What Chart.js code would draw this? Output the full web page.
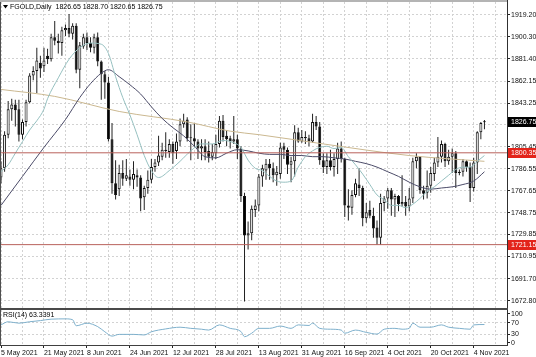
<!DOCTYPE html>
<html><head><meta charset="utf-8">
<script src="https://cdn.jsdelivr.net/npm/chart.js@4.4.1/dist/chart.umd.min.js"></script>
<style>
html,body{margin:0;padding:0;background:#fff;}
#wrap{position:relative;width:536px;height:357px;overflow:hidden;background:#fff;}
canvas{position:absolute;left:0;}
#cA{top:0;width:536px;height:310px;}
#cB{top:310px;width:536px;height:47px;}
</style></head><body>
<div id="wrap"><canvas id="cA" width="536" height="310"></canvas><canvas id="cB" width="536" height="47"></canvas></div>
<script>
// ---------- data ----------
const symbolTitle = 'FGOLD,Daily';
const lastOHLC = ['1826.65', '1828.70', '1820.65', '1826.75'];
const dateLabels = ['5 May 2021','21 May 2021','8 Jun 2021','24 Jun 2021','12 Jul 2021','28 Jul 2021','13 Aug 2021','31 Aug 2021','16 Sep 2021','4 Oct 2021','20 Oct 2021','4 Nov 2021'];

const opens = [1779,1787,1816,1838,1842,1838,1816,1827,1844,1867,1871,1878,1875,1884,1881,1900,1897,1895,1906,1908,
1903,1910,1872,1892,1900,1895,1891,1900,1879,1868,1861,1812,1774,1769,1783,1778,1780,1777,1781,1779,
1762,1770,1777,1788,1792,1797,1803,1801,1808,1802,1810,1825,1829,1813,1813,1810,1804,1806,1802,1797,
1800,1808,1828,1815,1813,1810,1812,1804,1763,1729,1731,1751,1755,1780,1785,1791,1787,1781,1782,1806,
1803,1790,1793,1818,1810,1814,1813,1810,1827,1823,1794,1788,1794,1788,1795,1804,1795,1755,1753,1764,
1773,1770,1744,1751,1746,1736,1727,1757,1761,1768,1760,1763,1756,1758,1754,1761,1793,1797,1768,1766,
1772,1782,1792,1797,1808,1793,1797,1800,1783,1784,1793,1788,1770,1792,1818,1826.65];
const highs = [1793,1819,1845,1847,1846,1846,1829,1846,1869,1875,1891,1884,1891,1890,1903,1914,1903,1909,1911,1920,
1912,1912,1896,1903,1904,1900,1903,1904,1880,1871,1866,1826,1794,1790,1794,1795,1786,1793,1786,1781,
1772,1785,1795,1795,1815,1809,1818,1812,1810,1817,1830,1834,1831,1825,1826,1812,1812,1812,1810,1808,
1816,1832,1833,1820,1815,1832,1816,1806,1766,1741,1755,1760,1782,1790,1795,1795,1792,1789,1809,1809,
1805,1797,1824,1822,1820,1819,1816,1834,1832,1827,1800,1800,1803,1800,1809,1810,1796,1769,1768,1778,
1787,1772,1757,1759,1753,1742,1765,1763,1770,1770,1765,1764,1781,1763,1770,1796,1800,1797.5,1772,1785,
1788,1796,1814,1811,1809,1803,1804,1802,1786,1795,1794,1792,1796,1819,1827,1828.70];
const lows = [1774,1784,1813,1828,1823,1810,1812,1823,1843,1863,1852,1865,1870,1877,1879,1893,1886,1884,1901,1900,
1898,1869,1856,1890,1889,1887,1886,1875,1846,1847,1810,1765,1760,1763,1772,1776,1772,1769,1771,1750,
1751,1765,1774,1784,1789,1794,1796,1796,1791,1795,1806,1822,1810,1794,1806,1795,1794,1794,1792,1794,
1795,1805,1810,1806,1804,1808,1795,1758,1672,1717,1725,1745,1750,1771,1777,1777,1775,1772,1778,1795,
1782,1775,1780,1809,1809,1808,1806,1809,1820,1790,1783,1782,1785,1780,1782,1792,1745,1742,1747,1762,
1763,1737,1740,1744,1727,1721,1721,1750,1752,1746,1745,1750,1754,1746,1750,1757,1787,1765,1760,1761,
1766,1776,1788,1792,1788,1790,1783,1770,1781,1780,1784,1758,1767,1782,1812,1820.65];
const closes = [1787,1816,1838,1842,1837,1816,1827,1844,1867,1871,1880,1873,1880,1881,1900,1897,1895,1906,1908,1903,
1910,1872,1893,1900,1895,1891,1900,1879,1868,1861,1812,1774,1764,1783,1778,1781,1777,1782,1779,1761,
1770,1777,1788,1792,1798,1803,1802,1808,1800,1810,1825,1828,1813,1813,1810,1804,1806,1801,1797,1801,
1808,1828,1814,1812,1810,1812,1804,1763,1729,1731,1752,1755,1780,1787,1791,1787,1781,1784,1805,1803,
1790,1793,1818,1810,1814,1813,1810,1827,1823,1794,1788,1794,1788,1795,1804,1795,1755,1753,1764,1774,
1770,1744,1749,1746,1735,1727,1757,1761,1768,1760,1763,1756,1758,1754,1761,1793,1797,1768,1765,1772,
1783,1792,1797,1808,1793,1797,1800,1783,1784,1793,1788,1770,1792,1818,1826,1826.75];

// moving averages (bar index -> price)
const tealBars   = [0,2,4,6,8,10,12,13,16,19,22,25,28,30,32,34,36,38,40,42,44,47,50,53,56,59,62,65,67,69,71,73,75,77,79,81,83,85,87,89,91,93,95,97,99,101,103,105,107,109,111,113,115,117,119,121,123,125,127,129,131,133,135];
const tealValues = [1784,1790,1800,1810,1820,1828,1838,1847,1865,1881,1891,1895,1894,1886,1866,1848,1833,1816,1798,1785,1779,1785,1793,1802,1808,1808,1811,1809,1805,1794,1787,1785,1780,1776,1775,1776,1788,1797,1802,1805,1806,1804,1805,1797,1790,1782,1773,1764,1760,1755,1755,1753,1756,1761,1767,1771,1776,1781,1786,1788,1788,1793,1798];
const navyBars   = [0,6,12,18,22,25,28,30,33,36,39,42,45,48,51,54,57,60,63,66,69,72,75,78,81,84,87,90,93,96,99,102,105,108,111,114,117,120,123,126,129,132,135];
const navyValues = [1755,1780,1805,1829,1848,1860,1869,1872,1866,1859,1851,1840,1830,1822,1815,1806,1797,1796,1800,1803,1802,1800,1799,1799,1798,1798,1797,1797,1796,1795,1793,1791,1788,1784,1780,1775,1771,1769,1770,1771,1773,1776,1784];
const tanBars    = [0,15,33,52,64,72,90,114,135];
const tanValues  = [1855,1849,1836,1827,1819,1816,1808,1798,1793];

const priceTicks = [1919.20,1900.30,1881.40,1862.15,1843.25,1824.35,1805.45,1786.55,1767.65,1748.75,1729.85,1710.95,1691.70,1672.80];
const levelValues = [1800.35, 1721.15];
const lastPrice = 1826.75;

const rsiBars   = [0,2,5,8,11,14,18,20,21,24,27,29,31,33,37,40,42,46,50,53,56,58,61,64,67,68,70,72,75,78,81,83,86,87,89,92,95,96,99,102,105,107,110,112,114,115,117,120,123,125,128,131,132,135];
const rsiValues = [62,73,68,73,77,82,83,80,59,68,56,38,23,29,29,27,38,48,54,50,47,44,62,50,39,21,33,50,50,58,50,62,60,68,50,47,44,33,44,36,30,47,50,47,50,68,54,54,62,54,50,47,62,63.34];
const rsiTicks = [0,30,70,100];
const rsiTitle = 'RSI(14) 63.3391';

// ---------- layout constants ----------
const X_MIN = -0.28, X_MAX = 141.3;
const Y_MIN = 1666.5, Y_MAX = 1930.4;
const R_MIN = -8, R_MAX = 113.9;
const FONT = "'Liberation Sans', Arial, sans-serif";
const gridBars = [];
for (let v = 0; v <= X_MAX; v += 6) gridBars.push(v);
const GRID = '#d2d2d2';

const pts = (bx, vy) => bx.map((b, k) => ({x: b, y: vy[k]}));
const idx = opens.map((_, i) => i);

function fixY(width) {
  return s => { s.width = width; s.paddingTop = 0; s.paddingBottom = 0; s.paddingLeft = 0; s.paddingRight = 0; };
}
function fixX(height) {
  return s => { s.height = height; s.paddingLeft = 0; s.paddingRight = 0; s.paddingTop = 0; s.paddingBottom = 0; };
}

// ---------- main chart ----------
const decorA = {
  id: 'decorA',
  afterDraw(chart) {
    const {ctx, scales: {y}} = chart;
    ctx.save();
    ctx.fillStyle = '#b4b4b4'; ctx.fillRect(0, 0, 507, 2);
    ctx.fillStyle = '#505050'; ctx.fillRect(0, 2, 1, 306);
    ctx.fillStyle = '#303030'; ctx.fillRect(507, 0, 1, 310);
    ctx.fillStyle = '#4a4a4a'; ctx.fillRect(0, 308, 508, 2);
    ctx.font = '7px ' + FONT;
    ctx.textBaseline = 'middle';
    ctx.textAlign = 'left';
    const boxes = [[lastPrice, '#000000'], [levelValues[0], '#e3241b'], [levelValues[1], '#e3241b']];
    boxes.forEach(([v, col]) => {
      const py = Math.round(y.getPixelForValue(v));
      ctx.fillStyle = col; ctx.fillRect(508, py - 5, 28, 10);
      ctx.fillStyle = '#ffffff'; ctx.fillText(v.toFixed(2), 511, py + 0.5);
    });
    ctx.fillStyle = '#000';
    ctx.beginPath(); ctx.moveTo(3, 5); ctx.lineTo(8, 5); ctx.lineTo(5.5, 8.5); ctx.closePath(); ctx.fill();
    ctx.fillText(symbolTitle + '  ' + lastOHLC.join(' '), 10, 7.5);
    ctx.restore();
  }
};

new Chart(document.getElementById('cA'), {
  type: 'line',
  data: {
    datasets: [
      {type: 'line', data: [{x: X_MIN, y: levelValues[0]}, {x: X_MAX, y: levelValues[0]}], borderColor: '#b9625c', borderWidth: 1, pointRadius: 0, order: 0},
      {type: 'line', data: [{x: X_MIN, y: levelValues[1]}, {x: X_MAX, y: levelValues[1]}], borderColor: '#b9625c', borderWidth: 1, pointRadius: 0, order: 0},
      {type: 'line', data: pts(tealBars, tealValues), borderColor: '#96c0c0', borderWidth: 1, pointRadius: 0, cubicInterpolationMode: 'monotone', order: 1},
      {type: 'line', data: pts(navyBars, navyValues), borderColor: '#4b4b68', borderWidth: 1, pointRadius: 0, cubicInterpolationMode: 'monotone', order: 1},
      {type: 'line', data: pts(tanBars, tanValues), borderColor: '#cbb890', borderWidth: 1, pointRadius: 0, cubicInterpolationMode: 'monotone', order: 1},
      {type: 'bar', data: idx.map(i => ({x: i, y: [opens[i], closes[i]]})), grouped: false, barThickness: 3, inflateAmount: 0,
        backgroundColor: c => (c.dataIndex !== undefined && closes[c.dataIndex] >= opens[c.dataIndex]) ? '#ffffff' : '#000000',
        borderColor: '#111', borderWidth: 1, borderSkipped: false, minBarLength: 1, order: 2},
      {type: 'bar', data: idx.map(i => ({x: i, y: [lows[i], highs[i]]})), grouped: false, barThickness: 1, inflateAmount: 0,
        backgroundColor: '#222', borderWidth: 0, order: 3}
    ]
  },
  options: {
    responsive: false, animation: false, events: [],
    layout: {padding: {top: 2, bottom: 2, left: 0, right: 0}},
    plugins: {legend: {display: false}, tooltip: {enabled: false}},
    scales: {
      x: {type: 'linear', min: X_MIN, max: X_MAX, offset: false,
        grid: {offset: false, color: GRID, lineWidth: 1, drawTicks: false},
        border: {display: false, dash: [2, 2]},
        ticks: {display: false},
        afterBuildTicks: s => { s.ticks = gridBars.map(v => ({value: v})); },
        afterFit: fixX(0)},
      y: {type: 'linear', position: 'right', min: Y_MIN, max: Y_MAX,
        grid: {color: GRID, lineWidth: 1, drawTicks: true, tickLength: 3, tickColor: '#222', tickBorderDash: []},
        border: {display: false, dash: [2, 2]},
        ticks: {font: {family: FONT, size: 7}, color: '#111', padding: 1, autoSkip: false, callback: v => Number(v).toFixed(2)},
        afterBuildTicks: s => { s.ticks = priceTicks.map(v => ({value: v})); },
        afterFit: fixY(29)}
    }
  },
  plugins: [decorA]
});

// ---------- RSI panel ----------
const decorB = {
  id: 'decorB',
  afterDraw(chart) {
    const {ctx} = chart;
    ctx.save();
    ctx.fillStyle = '#505050'; ctx.fillRect(0, 0, 1, 35);
    ctx.fillStyle = '#303030'; ctx.fillRect(507, 0, 1, 36);
    ctx.fillStyle = '#404040'; ctx.fillRect(0, 35, 508, 1);
    ctx.font = '7px ' + FONT; ctx.fillStyle = '#000'; ctx.textBaseline = 'middle'; ctx.textAlign = 'left';
    ctx.fillText(rsiTitle, 3, 5);
    ctx.restore();
  }
};

new Chart(document.getElementById('cB'), {
  type: 'line',
  data: {
    datasets: [
      {data: pts(rsiBars, rsiValues), borderColor: '#7eb0cc', borderWidth: 1, pointRadius: 0, cubicInterpolationMode: 'monotone'}
    ]
  },
  options: {
    responsive: false, animation: false, events: [],
    layout: {padding: {top: 0, bottom: 0, left: 0, right: 0}},
    plugins: {legend: {display: false}, tooltip: {enabled: false}},
    scales: {
      x: {type: 'linear', min: X_MIN, max: X_MAX, offset: false,
        grid: {offset: false, color: GRID, lineWidth: 1, drawTicks: true, tickLength: 3, tickBorderDash: [],
          tickColor: c => (c.tick && Math.round(c.tick.value) % 12 === 0) ? '#222' : 'rgba(0,0,0,0)'},
        border: {display: false, dash: [2, 2]},
        ticks: {font: {family: FONT, size: 7}, color: '#111', align: 'start', padding: 1, autoSkip: false, maxRotation: 0, minRotation: 0,
          callback: v => { const r = Math.round(v); return (r % 12 === 0 && dateLabels[r / 12]) ? dateLabels[r / 12] : ''; }},
        afterBuildTicks: s => { s.ticks = gridBars.map(v => ({value: v})); },
        afterFit: fixX(12)},
      y: {type: 'linear', position: 'right', min: R_MIN, max: R_MAX,
        grid: {color: c => (c.tick && (c.tick.value === 30 || c.tick.value === 70)) ? GRID : 'rgba(0,0,0,0)', lineWidth: 1,
          drawTicks: true, tickLength: 3, tickColor: '#222', tickBorderDash: []},
        border: {display: false, dash: [2, 2]},
        ticks: {font: {family: FONT, size: 7}, color: '#111', padding: 1, autoSkip: false, callback: v => String(v)},
        afterBuildTicks: s => { s.ticks = rsiTicks.map(v => ({value: v})); },
        afterFit: fixY(29)}
    }
  },
  plugins: [decorB]
});
</script>
</body></html>
